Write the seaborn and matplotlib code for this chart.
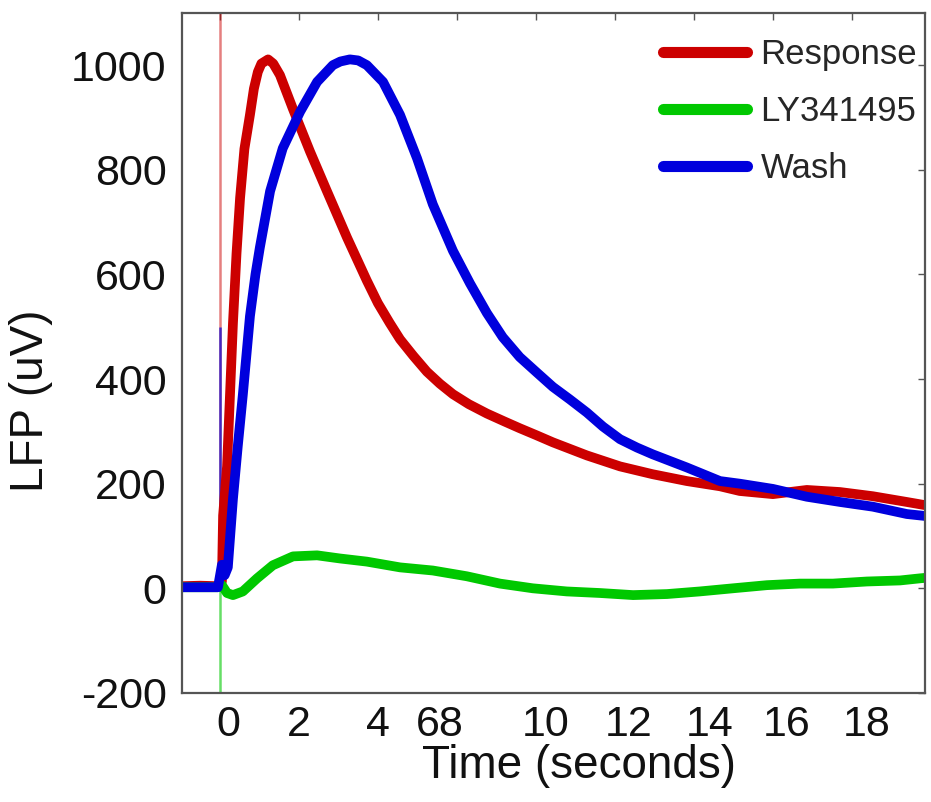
import pandas as pd
import seaborn as sns
import matplotlib.pyplot as plt
from matplotlib.transforms import ScaledTranslation

# LFP traces: time (s) and amplitude (uV)
resp_t = [-0.96, -0.5, -0.05, 0.05, 0.08, 0.18, 0.25, 0.33, 0.42, 0.51, 0.62, 0.76,
          0.86, 0.96, 1.05, 1.22, 1.35, 1.52, 1.85, 2.28, 2.71, 3.22, 3.72, 4.0,
          4.30, 4.56, 4.9, 5.24, 5.57, 5.90, 6.3, 6.76, 7.2, 7.59, 8.0, 8.43,
          9.29, 10.13, 10.96, 11.82, 12.66, 13.16, 14.0, 14.86, 15.7, 16.53,
          17.39, 18.0]
resp_uv = [4, 5, 4, 13, 139, 233, 361, 507, 640, 746, 840, 905,
           955, 987, 1003, 1011, 1003, 981, 916, 835, 759, 670, 588, 545,
           507, 476, 444, 414, 391, 371, 352, 334, 319, 306, 293, 279,
           254, 233, 218, 205, 195, 186, 180, 188, 184, 176,
           165, 157]

ly_t = [-0.96, -0.5, -0.05, 0.05, 0.18, 0.33, 0.58, 0.94, 1.34, 1.85, 2.46, 3.04,
        3.72, 4.56, 5.39, 6.25, 7.09, 7.92, 8.78, 9.62, 10.46, 11.32, 12.15,
        12.99, 13.85, 14.68, 15.52, 16.38, 17.22, 17.72, 18.0]
ly_uv = [2, 2, 2, 6, -9, -13, -6, 19, 44, 61, 63, 57,
         51, 40, 34, 23, 9, 0, -6, -9, -13, -11, -6,
         0, 6, 9, 9, 13, 15, 19, 21]

wash_t = [-0.96, -0.5, -0.05, 0.05, 0.12, 0.2, 0.33, 0.45, 0.58, 0.76, 0.9, 1.01,
          1.27, 1.59, 2.03, 2.46, 2.86, 3.05, 3.29, 3.5, 3.72, 4.13, 4.56, 4.99,
          5.39, 5.90, 6.33, 6.76, 7.16, 7.59, 8.03, 8.43, 8.86, 9.29, 9.70, 10.13,
          10.56, 10.96, 11.82, 12.66, 13.16, 14.0, 14.86, 15.7, 16.53, 17.39, 18.0]
wash_uv = [2, 2, 2, 45, 25, 40, 171, 270, 370, 520, 600, 651,
           759, 841, 911, 968, 1000, 1007, 1011, 1009, 1000, 968, 905, 822,
           734, 645, 583, 526, 480, 442, 412, 385, 361, 336, 309, 285,
           269, 256, 231, 205, 200, 190, 175, 165, 156, 142, 137]

labels = ['Response', 'LY341495', 'Wash']
colors = ['#cc0000', '#00c800', '#0000dd']
# peak of the thin stimulus artefact at t = 0 for each trace
artefact_uv = [1150, -230, 500]

xtick_pos = [0, 2, 4, 6, 8, 10, 12, 14, 16]
xtick_lab = ['0', '2', '4', '68', '10', '12', '14', '16', '18']
xtick_shift = [8, 0, 0, -17, 10, 14, 16, 14, 15]   # label nudges in px
ytick_pos = [-200, 0, 200, 400, 600, 800, 1000]

df = pd.concat([
    pd.DataFrame({'t': resp_t, 'uv': resp_uv, 'cond': labels[0]}),
    pd.DataFrame({'t': ly_t, 'uv': ly_uv, 'cond': labels[1]}),
    pd.DataFrame({'t': wash_t, 'uv': wash_uv, 'cond': labels[2]}),
])

sns.set_style('white')
plt.rcParams['font.family'] = ['Liberation Sans', 'DejaVu Sans']
plt.rcParams['axes.unicode_minus'] = False

fig = plt.figure(figsize=(9.31, 8.02), dpi=100)
ax = fig.add_axes([0.1955, 0.136, 0.798, 0.848])

# thin artefact lines at stimulus onset
for art, c, a in zip(artefact_uv, colors, [0.5, 0.6, 0.7]):
    ax.vlines(0, 0, art, color=c, lw=1.8, alpha=a, zorder=1)

sns.lineplot(data=df, x='t', y='uv', hue='cond', hue_order=labels,
             palette=colors, estimator=None, sort=False, lw=7, ax=ax, zorder=2)

ax.set_xlim(-0.96, 17.85)
ax.set_ylim(-200, 1100)
ax.set_xticks(xtick_pos)
ax.set_xticklabels(xtick_lab)
ax.set_yticks(ytick_pos)

ax.tick_params(axis='both', direction='in', length=5, width=1, color='#555555',
               top=True, right=True, labelsize=31, labelcolor='#111111')
ax.tick_params(axis='y', pad=11)
ax.tick_params(axis='x', pad=9)
for s in ax.spines.values():
    s.set_color('#555555')
    s.set_linewidth(1.6)

ax.set_xlabel('Time (seconds)', fontsize=33, color='#111111')
ax.set_ylabel('LFP (uV)', fontsize=33, color='#111111')
ax.xaxis.set_label_coords(0.534, -0.075)
ax.yaxis.set_label_coords(-0.174, 0.43)

handles, _ = ax.get_legend_handles_labels()
leg = ax.legend(handles, labels, loc='upper right', bbox_to_anchor=(1.023, 1.0),
                frameon=False, fontsize=25, handlelength=2.4, handletextpad=0.4,
                labelspacing=0.7, borderpad=0.72, borderaxespad=0.0)
for h in leg.legend_handles:
    h.set_linewidth(8)

# nudge the x tick labels like in the original figure
for lab, dx in zip(ax.get_xticklabels(), xtick_shift):
    lab.set_transform(lab.get_transform() + ScaledTranslation(dx / 100, 0, fig.dpi_scale_trans))

fig.savefig('out.png', dpi=100)
